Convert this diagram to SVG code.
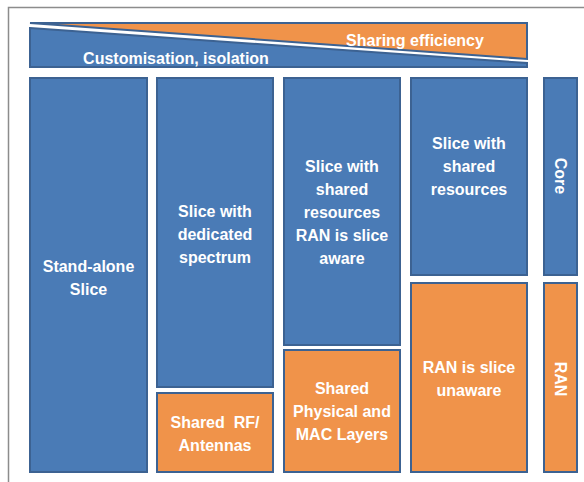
<svg xmlns="http://www.w3.org/2000/svg" width="584" height="482" viewBox="0 0 584 482">
<style>
.b{fill:#4a7bb6;stroke:#3c6292;stroke-width:2}
.o{fill:#f0934a;stroke:#3c6292;stroke-width:2}
text{font-family:"Liberation Sans",Arial,sans-serif;font-weight:bold;fill:#ffffff;text-anchor:middle}
.t{font-size:16px}
.h{font-size:16px}
</style>
<rect width="584" height="482" fill="#ffffff"/>
<path d="M8.5,482 V7.5 H584" fill="none" stroke="#8c8c8c" stroke-width="1.5"/>
<g id="banner">
<polygon class="o" points="30,23 527,23 527,59"/>
<polygon class="b" points="30,28 527,63 527,67 30,67"/>
<text class="h" x="415" y="46">Sharing efficiency</text>
<text class="h" x="176" y="64">Customisation, isolation</text>
</g>
<g id="standalone">
<rect class="b" x="30" y="78" width="117" height="394"/>
<text class="t" x="88.5" y="272">Stand-alone</text>
<text class="t" x="88.5" y="295">Slice</text>
</g>
<g id="dedicated">
<rect class="b" x="157" y="78" width="116" height="309"/>
<text class="t" x="215" y="217">Slice with</text>
<text class="t" x="215" y="240">dedicated</text>
<text class="t" x="215" y="263">spectrum</text>
</g>
<g id="sharedrf">
<rect class="o" x="157" y="393" width="116" height="79"/>
<text class="t" x="215" y="428" xml:space="preserve">Shared  RF/</text>
<text class="t" x="215" y="451">Antennas</text>
</g>
<g id="aware">
<rect class="b" x="284" y="78" width="116" height="267"/>
<text class="t" x="342" y="172">Slice with</text>
<text class="t" x="342" y="195">shared</text>
<text class="t" x="342" y="218">resources</text>
<text class="t" x="342" y="241">RAN is slice</text>
<text class="t" x="342" y="264">aware</text>
</g>
<g id="sharedphy">
<rect class="o" x="284" y="350" width="116" height="122"/>
<text class="t" x="342" y="394">Shared</text>
<text class="t" x="342" y="417">Physical and</text>
<text class="t" x="342" y="440">MAC Layers</text>
</g>
<g id="sharedres">
<rect class="b" x="411" y="78" width="116" height="197"/>
<text class="t" x="469" y="149">Slice with</text>
<text class="t" x="469" y="172">shared</text>
<text class="t" x="469" y="195">resources</text>
</g>
<g id="unaware">
<rect class="o" x="411" y="283" width="116" height="189"/>
<text class="t" x="469" y="373">RAN is slice</text>
<text class="t" x="469" y="396">unaware</text>
</g>
<g id="core">
<rect class="b" x="544" y="78" width="33" height="197"/>
<text class="t" transform="translate(554.5,176) rotate(90)" x="0" y="0">Core</text>
</g>
<g id="ran">
<rect class="o" x="544" y="283" width="33" height="189"/>
<text class="t" transform="translate(554.5,379) rotate(90)" x="0" y="0">RAN</text>
</g>
<g id="connectors"/>
</svg>
